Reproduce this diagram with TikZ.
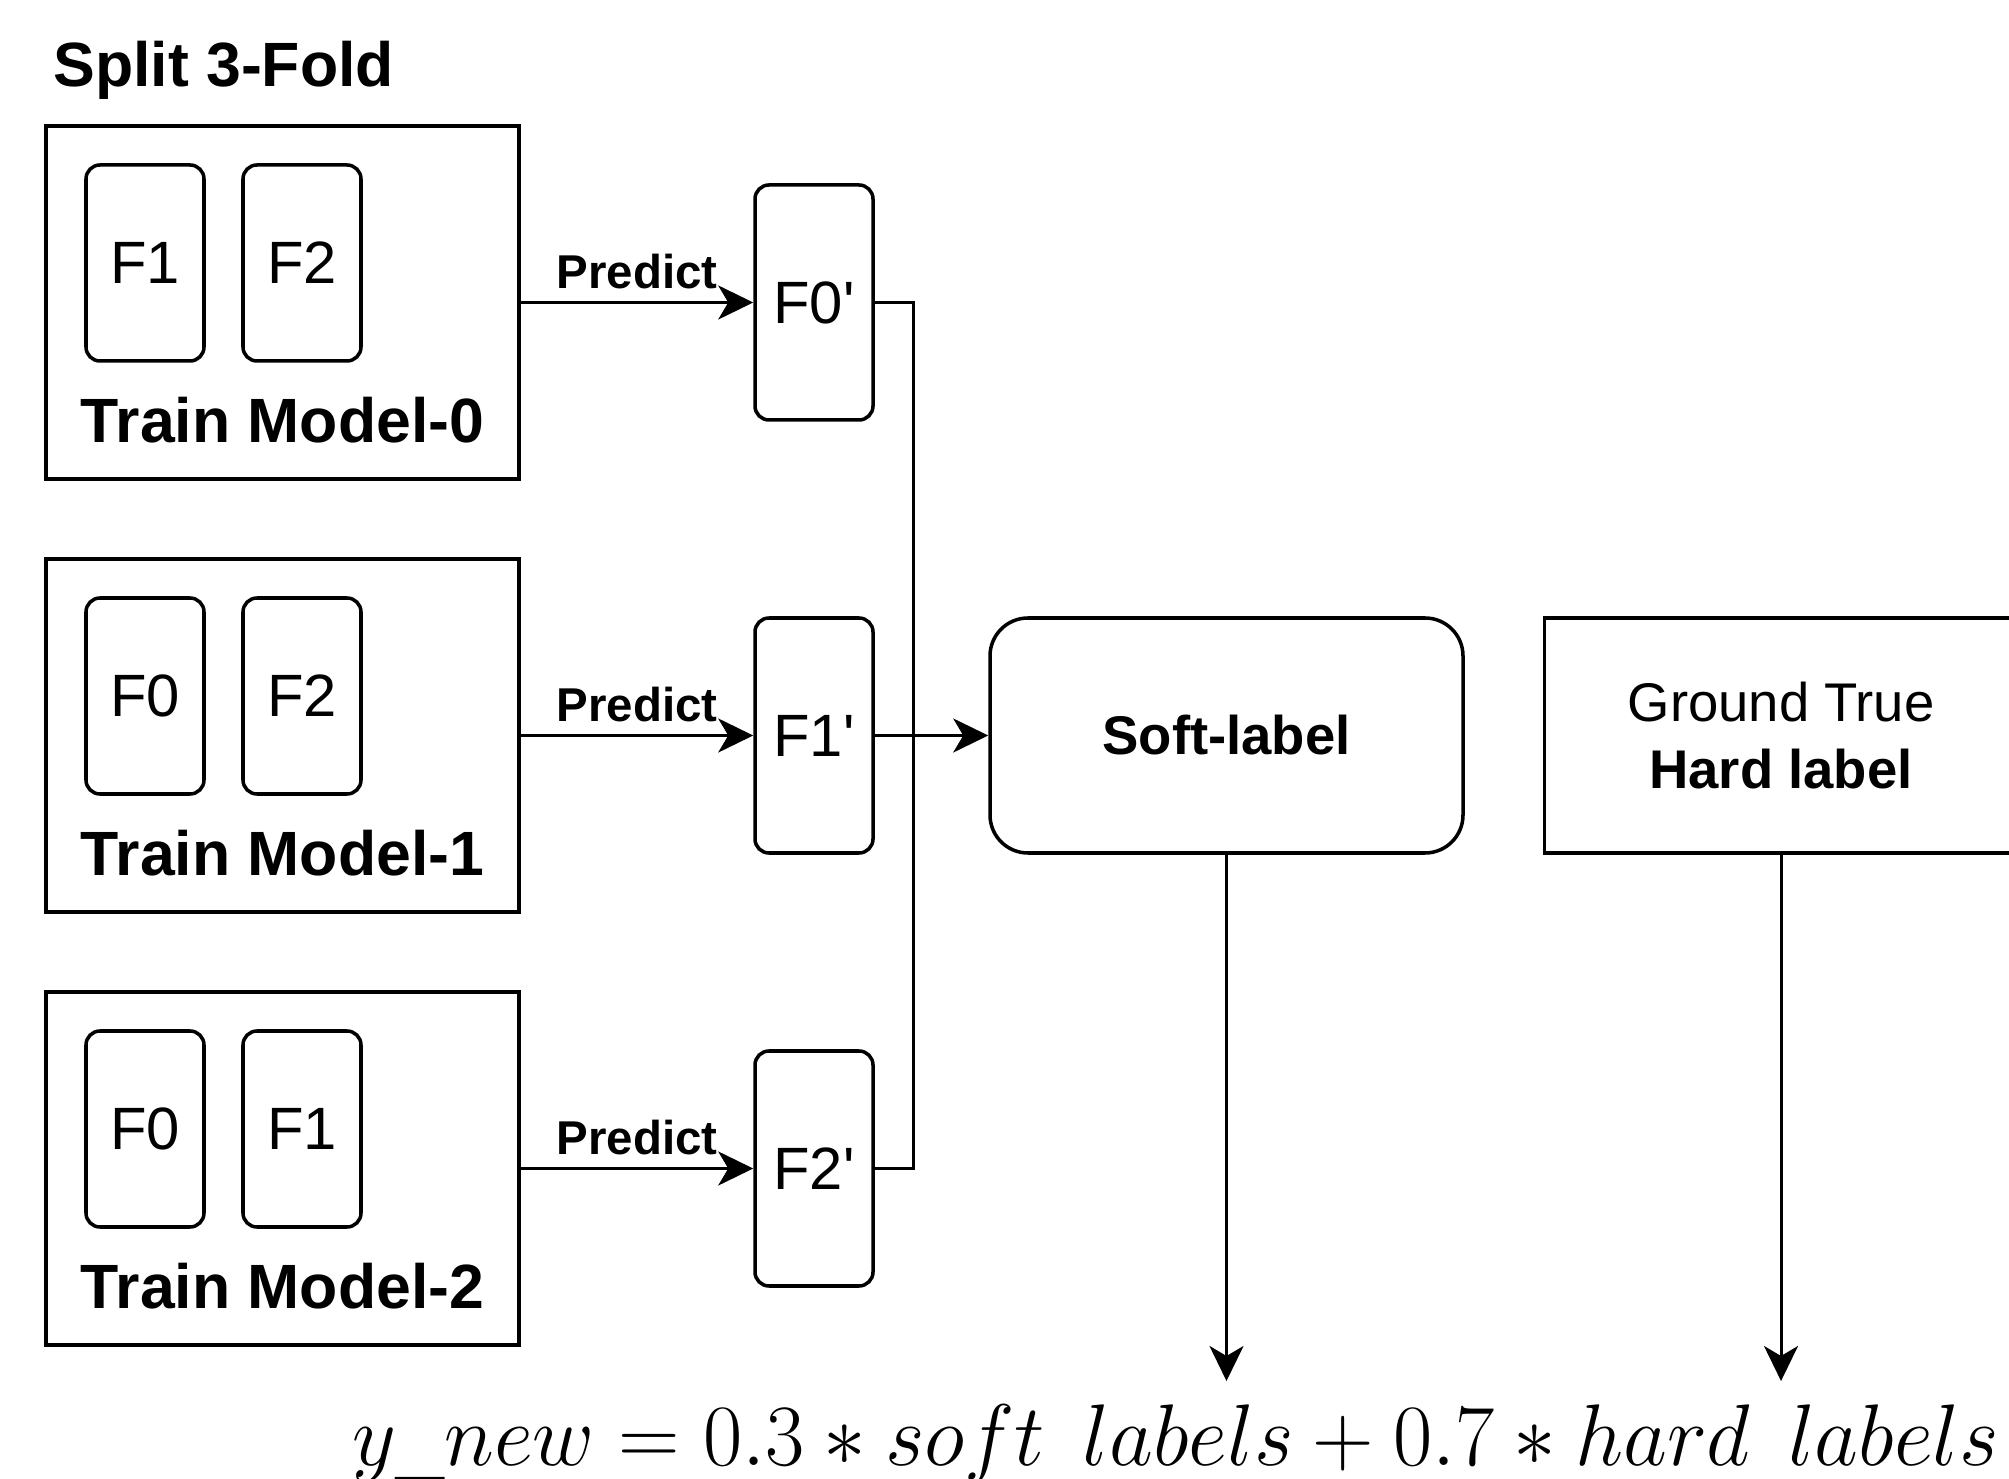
\documentclass[tikz,border=0pt]{standalone}
\usepackage[no-math]{fontspec}
\setmainfont{Liberation Sans}
\usetikzlibrary{positioning,arrows.meta}
\begin{document}
\begin{tikzpicture}
    [ model/.style={draw,line width=1pt,minimum width=4.73cm,minimum height=3.53cm}
    , fold/.style={draw,line width=1pt,rounded corners=0.14cm,minimum width=1.18cm,minimum height=1.96cm,font=\fontsize{17}{20}\selectfont}
    , pred/.style={fold,minimum height=2.35cm}
    , heading/.style={font=\fontsize{17.8}{21}\selectfont\bfseries}
    , result/.style={draw,line width=1pt,minimum width=4.73cm,minimum height=2.35cm,align=center,font=\fontsize{15.5}{19}\selectfont}
    , wire/.style={line width=0.85pt}
    , link/.style={wire,-{Stealth[length=0.35cm,width=0.34cm,inset=0.1cm]}}
    ]
    \useasboundingbox (0,0) rectangle (20.09,-14.79);
    \clip (0,0) rectangle (20.09,-14.79);
    \node [heading, anchor=base west] (split) at (0.41,-0.87) {Split 3-Fold};
    \foreach \i/\a/\b in {0/1/2,1/0/2,2/0/1} {
      \node [model] (model\i) at (2.825,-3.025-4.33*\i) {};
      \node [fold] (fa\i) at (1.45,-2.63-4.33*\i) {F\a};
      \node [fold] (fb\i) at (3.02,-2.63-4.33*\i) {F\b};
      \node [heading] (name\i) at (2.825,-4.20-4.33*\i) {Train Model-\i};
      \node [pred] (pred\i) at (8.14,-3.025-4.33*\i) {F\i\textquotesingle};
      \draw [link] (model\i) -- node [above, font=\fontsize{13.5}{16}\selectfont\bfseries] {Predict} (pred\i);
    }
    \draw [wire] (pred0.east) -- ++(0.39,0) |- (pred2.east);
    \node [result, rounded corners=0.38cm, font=\fontsize{15.5}{19}\selectfont\bfseries] (soft) at (12.265,-7.355) {Soft-label};
    \node [result, right=0.78cm of soft] (hard) {Ground True\\\textbf{Hard label}};
    \draw [link] (pred1) -- (soft);
    \node [anchor=base, font=\fontsize{25}{29}\selectfont] (formula) at (11.76,-14.65)
      {\scalebox{0.975}[1]{$y\_new = 0.3 * soft\;\,labels + 0.7 * hard\;\,labels$}};
    \coordinate (softend) at (soft.south |- 0,-13.81);
    \coordinate (hardend) at (hard.south |- 0,-13.81);
    \draw [link] (soft) -- (softend);
    \draw [link] (hard) -- (hardend);
\end{tikzpicture}
\end{document}
